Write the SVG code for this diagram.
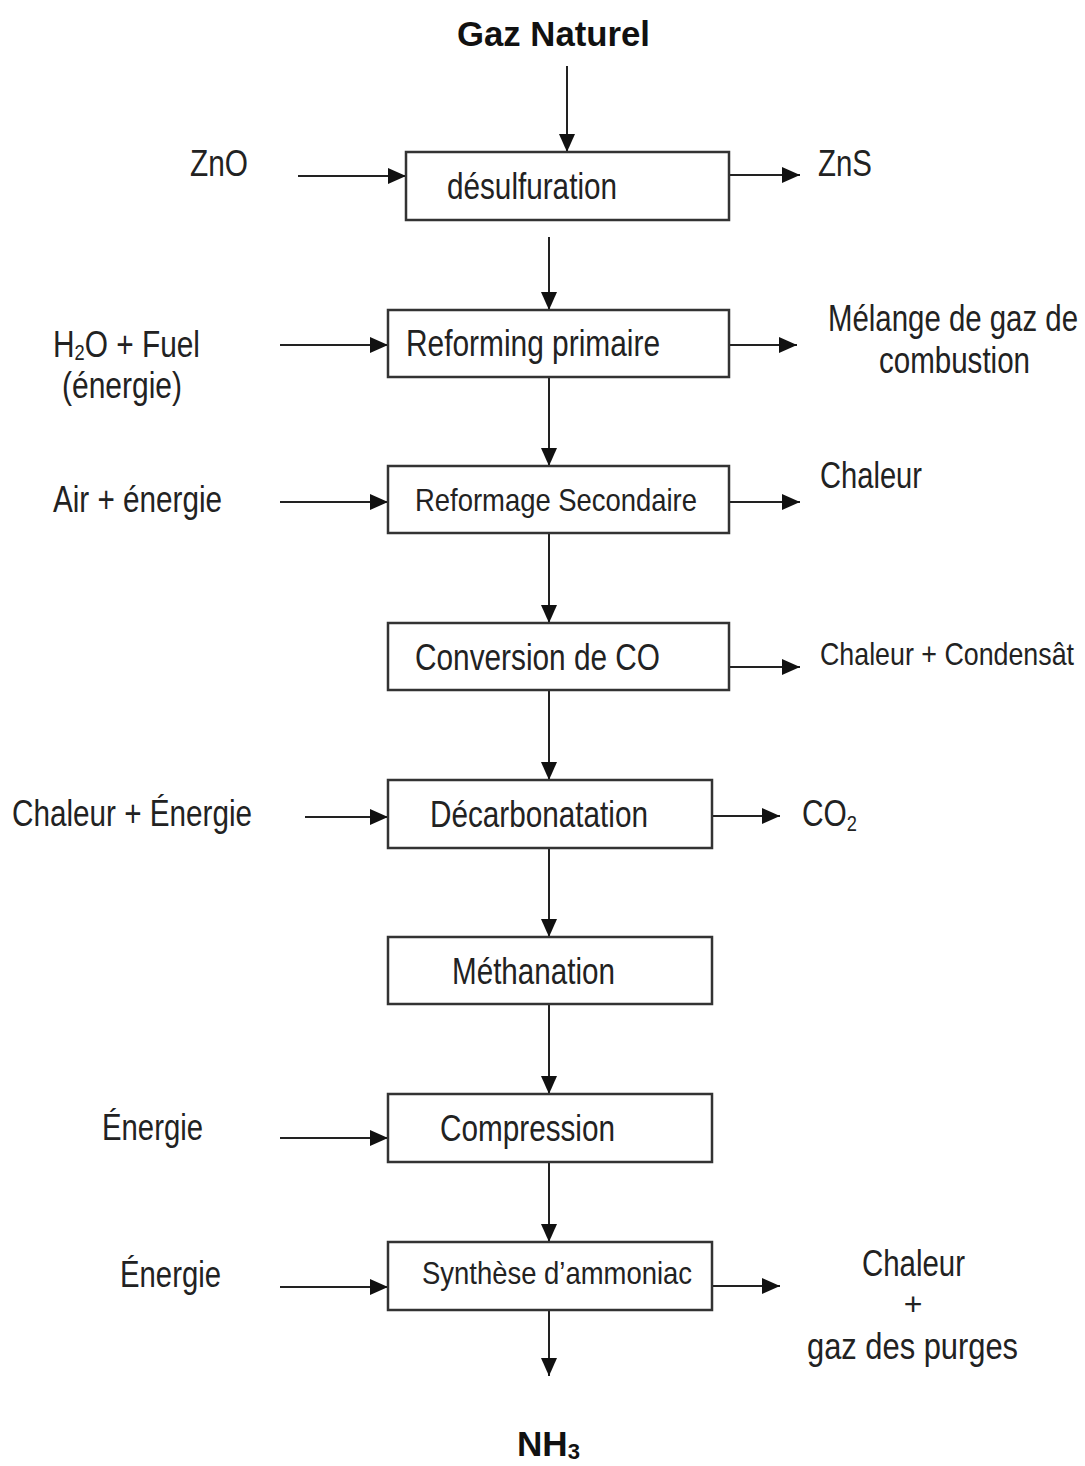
<svg xmlns="http://www.w3.org/2000/svg" width="1085" height="1466" viewBox="0 0 1085 1466">
<style>
  text { font-family: "Liberation Sans Narrow", "Liberation Sans", Arial, sans-serif; fill: #222; }
  .lbl { font-size: 36px; }
  .sm { font-size: 32px; }
  .title { font-family: "Liberation Sans", Arial, sans-serif; font-weight: bold; font-size: 35px; fill: #111; }
  .box { fill: #fff; stroke: #333; stroke-width: 2.5; }
  .arr { fill: none; stroke: #222; stroke-width: 2; marker-end: url(#ah); }
</style>
<defs>
  <marker id="ah" viewBox="0 0 18 16" refX="18" refY="8" markerWidth="18" markerHeight="16" markerUnits="userSpaceOnUse" orient="auto">
    <path d="M0,0 L18,8 L0,16 z" fill="#111"/>
  </marker>
</defs>
<rect width="1085" height="1466" fill="#fff"/>

<g id="connectors">
  <line class="arr" x1="567" y1="66" x2="567" y2="152"/>
  <line class="arr" x1="549" y1="237" x2="549" y2="310"/>
  <line class="arr" x1="549" y1="377" x2="549" y2="466"/>
  <line class="arr" x1="549" y1="533" x2="549" y2="623"/>
  <line class="arr" x1="549" y1="690" x2="549" y2="780"/>
  <line class="arr" x1="549" y1="848" x2="549" y2="937"/>
  <line class="arr" x1="549" y1="1004" x2="549" y2="1094"/>
  <line class="arr" x1="549" y1="1162" x2="549" y2="1242"/>
  <line class="arr" x1="549" y1="1310" x2="549" y2="1376"/>

  <line class="arr" x1="298" y1="176" x2="406" y2="176"/>
  <line class="arr" x1="280" y1="345" x2="388" y2="345"/>
  <line class="arr" x1="280" y1="502" x2="388" y2="502"/>
  <line class="arr" x1="305" y1="817" x2="388" y2="817"/>
  <line class="arr" x1="280" y1="1138" x2="388" y2="1138"/>
  <line class="arr" x1="280" y1="1287" x2="388" y2="1287"/>

  <line class="arr" x1="729" y1="175" x2="800" y2="175"/>
  <line class="arr" x1="729" y1="345" x2="797" y2="345"/>
  <line class="arr" x1="729" y1="502" x2="800" y2="502"/>
  <line class="arr" x1="729" y1="667" x2="800" y2="667"/>
  <line class="arr" x1="712" y1="816" x2="780" y2="816"/>
  <line class="arr" x1="712" y1="1286" x2="780" y2="1286"/>
</g>

<g id="gaz-naturel"><text class="title" x="457" y="46" textLength="193" lengthAdjust="spacingAndGlyphs">Gaz Naturel</text></g>

<g id="desulfuration">
  <rect class="box" x="406" y="152" width="323" height="68"/>
  <text class="lbl" x="447" y="199" textLength="170" lengthAdjust="spacingAndGlyphs">désulfuration</text>
</g>
<g id="reforming-primaire">
  <rect class="box" x="388" y="310" width="341" height="67"/>
  <text class="lbl" x="406" y="356" textLength="254" lengthAdjust="spacingAndGlyphs">Reforming primaire</text>
</g>
<g id="reformage-secondaire">
  <rect class="box" x="388" y="466" width="341" height="67"/>
  <text class="sm" x="415" y="511" textLength="282" lengthAdjust="spacingAndGlyphs">Reformage Secondaire</text>
</g>
<g id="conversion-co">
  <rect class="box" x="388" y="623" width="341" height="67"/>
  <text class="lbl" x="415" y="670" textLength="245" lengthAdjust="spacingAndGlyphs">Conversion de CO</text>
</g>
<g id="decarbonatation">
  <rect class="box" x="388" y="780" width="324" height="68"/>
  <text class="lbl" x="430" y="827" textLength="218" lengthAdjust="spacingAndGlyphs">Décarbonatation</text>
</g>
<g id="methanation">
  <rect class="box" x="388" y="937" width="324" height="67"/>
  <text class="lbl" x="452" y="984" textLength="163" lengthAdjust="spacingAndGlyphs">Méthanation</text>
</g>
<g id="compression">
  <rect class="box" x="388" y="1094" width="324" height="68"/>
  <text class="lbl" x="440" y="1141" textLength="175" lengthAdjust="spacingAndGlyphs">Compression</text>
</g>
<g id="synthese">
  <rect class="box" x="388" y="1242" width="324" height="68"/>
  <text class="sm" x="422" y="1284" textLength="270" lengthAdjust="spacingAndGlyphs">Synthèse d’ammoniac</text>
</g>

<g id="zno"><text class="lbl" x="190" y="176" textLength="58" lengthAdjust="spacingAndGlyphs">ZnO</text></g>
<g id="zns"><text class="lbl" x="818" y="176" textLength="54" lengthAdjust="spacingAndGlyphs">ZnS</text></g>
<g id="h2o-fuel">
  <text class="lbl" x="53" y="357" textLength="147" lengthAdjust="spacingAndGlyphs">H<tspan font-size="22" dy="3">2</tspan><tspan dy="-3">O + Fuel</tspan></text>
  <text class="lbl" x="62" y="398" textLength="120" lengthAdjust="spacingAndGlyphs">(énergie)</text>
</g>
<g id="melange">
  <text class="lbl" x="828" y="331" textLength="250" lengthAdjust="spacingAndGlyphs">Mélange de gaz de</text>
  <text class="lbl" x="879" y="373" textLength="151" lengthAdjust="spacingAndGlyphs">combustion</text>
</g>
<g id="air-energie"><text class="lbl" x="53" y="512" textLength="169" lengthAdjust="spacingAndGlyphs">Air + énergie</text></g>
<g id="chaleur1"><text class="lbl" x="820" y="488" textLength="102" lengthAdjust="spacingAndGlyphs">Chaleur</text></g>
<g id="chaleur-condensat"><text class="sm" x="820" y="665" textLength="254" lengthAdjust="spacingAndGlyphs">Chaleur + Condensât</text></g>
<g id="chaleur-energie"><text class="lbl" x="12" y="826" textLength="240" lengthAdjust="spacingAndGlyphs">Chaleur + Énergie</text></g>
<g id="co2"><text class="lbl" x="802" y="826" textLength="55" lengthAdjust="spacingAndGlyphs">CO<tspan font-size="22" dy="5">2</tspan></text></g>
<g id="energie1"><text class="lbl" x="102" y="1140" textLength="101" lengthAdjust="spacingAndGlyphs">Énergie</text></g>
<g id="energie2"><text class="lbl" x="120" y="1287" textLength="101" lengthAdjust="spacingAndGlyphs">Énergie</text></g>
<g id="chaleur-purges">
  <text class="lbl" x="862" y="1276" textLength="103" lengthAdjust="spacingAndGlyphs">Chaleur</text>
  <text class="sm" x="913" y="1315" text-anchor="middle">+</text>
  <text class="lbl" x="807" y="1359" textLength="211" lengthAdjust="spacingAndGlyphs">gaz  des purges</text>
</g>
<g id="nh3"><text class="title" x="517" y="1456" textLength="63" lengthAdjust="spacingAndGlyphs">NH<tspan font-size="22" dy="3">3</tspan></text></g>
</svg>
